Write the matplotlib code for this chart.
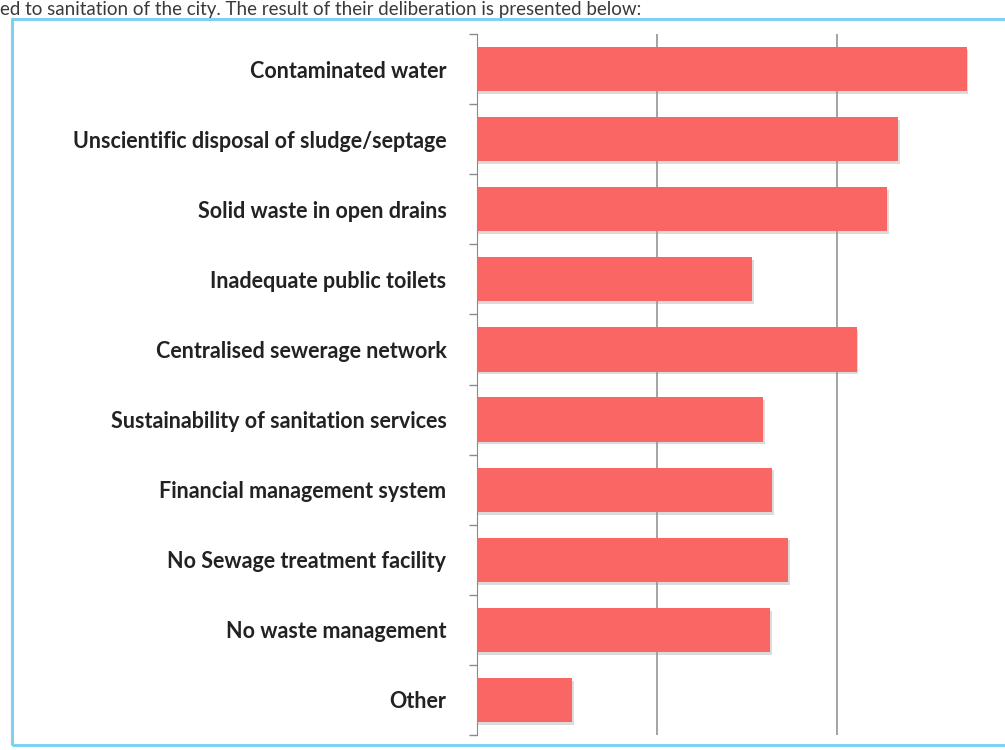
import matplotlib.pyplot as plt
import matplotlib.patheffects as pe
from matplotlib.patches import Rectangle
import numpy as np

# Issues raised in the sanitation deliberation and how strongly each was ranked
issues = [
    "Contaminated water",
    "Unscientific disposal of sludge/septage",
    "Solid waste in open drains",
    "Inadequate public toilets",
    "Centralised sewerage network",
    "Sustainability of sanitation services",
    "Financial management system",
    "No Sewage treatment facility",
    "No waste management",
    "Other",
]
scores = [27.2, 23.4, 22.8, 15.3, 21.1, 15.9, 16.4, 17.3, 16.3, 5.3]

plt.rcParams['font.family'] = ['Lato', 'DejaVu Sans']

fig = plt.figure(figsize=(10.05, 7.5), dpi=100)

# sentence above the chart
fig.text(0.0, 0.999, "ed to sanitation of the city. The result of their deliberation is presented below:",
         fontsize=13.5, color="#3a3a3a", ha="left", va="top")

# light blue frame round the chart
frame = Rectangle((12 / 1005, 5 / 750), 1.2, 726 / 750, transform=fig.transFigure,
                  fill=False, edgecolor="#7fd0f2", linewidth=2.2)
fig.patches.append(frame)

ax = fig.add_axes([477 / 1005, 15 / 750, 528 / 1005, 701 / 750])
ypos = np.arange(len(issues))
bars = ax.barh(ypos, scores, height=0.63, color="#fa6663", zorder=3)
for b in bars:
    b.set_path_effects([pe.SimplePatchShadow(offset=(1, -2), shadow_rgbFace="#999999", alpha=0.35),
                        pe.Normal()])

ax.set_xlim(0, 528 / 18)
ax.set_ylim(len(issues) - 0.5, -0.5)
ax.set_xticks([10, 20])
ax.xaxis.grid(True, color="#8a8a8a", linewidth=1.1, zorder=0)
ax.tick_params(axis="x", length=0, labelbottom=False)

ax.set_yticks(ypos)
ax.set_yticklabels(issues, fontsize=15.5, fontweight="bold", color="#222222")
ax.tick_params(axis="y", which="major", length=0, pad=22)
ax.set_yticks(np.arange(-0.5, len(issues)), minor=True)
ax.tick_params(axis="y", which="minor", length=6, color="#8a8a8a", width=1)

for side in ["top", "right", "bottom"]:
    ax.spines[side].set_visible(False)
ax.spines["left"].set_color("#8a8a8a")

fig.savefig("out.png", dpi=100)
